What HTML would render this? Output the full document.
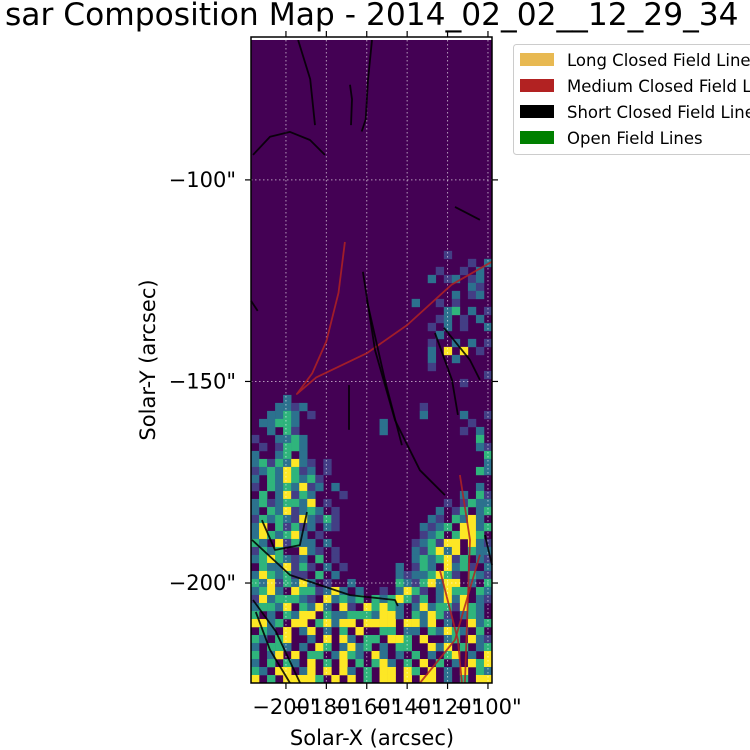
<!DOCTYPE html>
<html><head><meta charset="utf-8"><style>
html,body{margin:0;padding:0;background:#fff;width:750px;height:750px;overflow:hidden}
svg{display:block;font-family:"DejaVu Sans","Liberation Sans",sans-serif}
</style></head><body>
<svg id="chart" width="750" height="750" viewBox="0 0 750 750">
<text x="5" y="25" font-size="31.3" fill="#000">sar Composition Map - 2014_02_02__12_29_34</text>
<g id="plot"></g>
<g id="axes"></g>
<g id="legend">
<rect x="513.5" y="44.5" width="245" height="110" rx="3" fill="#fff" stroke="#ccc"/>
<rect x="520" y="53" width="34" height="13" fill="#e8b952"/>
<text x="567" y="66" font-size="16.5">Long Closed Field Lines</text>
<rect x="520" y="79" width="34" height="13" fill="#b22222"/>
<text x="567" y="92" font-size="16.5">Medium Closed Field Lines</text>
<rect x="520" y="105" width="34" height="13" fill="#000"/>
<text x="567" y="118" font-size="16.5">Short Closed Field Lines</text>
<rect x="520" y="131" width="34" height="13" fill="#008000"/>
<text x="567" y="144" font-size="16.5">Open Field Lines</text>
</g>
<text x="372" y="745" font-size="21" text-anchor="middle">Solar-X (arcsec)</text>
<text transform="translate(155,360) rotate(-90)" font-size="21" text-anchor="middle">Solar-Y (arcsec)</text>
</svg>
<script>
const xTicks=[-200,-180,-160,-140,-120,-100];
const yTicks=[-100,-150,-200];
const xDomain=[-217.3,-98];
const yDomain=[-64.8,-224.8];
const gridTopY=-117.6;
const gridBottomY=-224.8;
const gridRows=[
"........................1.....",
"...........................1.2",
".......................1..1.2.",
"......................2.12.12.",
"...........................21.",
".........................2.12.",
"....................2..1.1....",
"........................23.2.1",
".......................12.1.2.",
"......................1.2.1..2",
".......................2......",
"......................1..2.2.1",
"......................2.4.4.1.",
"......................2..2....",
"......................1.......",
".............................1",
"..........................1...",
"..............................",
"....2.........................",
"...2212..............1........",
"..2232.1.............2....2..1",
".22332..........2..........1..",
"..2.31..........2.........1.2.",
"1..2232.....................3.",
".1.1332.....................21",
"2..23.2......................3",
"23132421.1...................2",
"12324312.1..................32",
"2.3243231.....................",
"1.3232412.2.................2.",
".3.24132...1..............2.31",
"23123324.1..............1.1322",
"2.3241232.1............2.13.23",
"13232142131...........21.3242.",
"24.31312.21..........2123.4423",
"2432342.1............123.3443.",
"32.41322.2..........123144.421",
"1323..421.1.........213424.322",
"2343212.3.1.........2323413.21",
".3224131.2.1......2.132.4231.2",
"2432311.3.2.......21223431.321",
"32413242.1..2.....32134244.2.3",
"2342.4331242.2..1.2431.2433.32",
"14233321.42323.3234313.2424.21",
"23324.3242.41.43432.242331432.",
"3.2.3244.3223332442.32431.232",
"4423.44.34244.4444.4424.2..423",
".32.4.24.2.3.4..33.22.32432.3.",
"32.34..2.4.42.33.443.4..23.421",
"2.332.2.43.2423.2.33..424.3.23",
"3.24.4.33.2432.42.2.3.2.34.2.4",
"2.3.32.4.3.4.3.342.3.4.3.2.434",
"32.44.24.4.42.3.44.43.4.2.4.32",
"4.3.44443.4.4.3.44.4.44.2.3.44"
];
const colors={".":"#440154","1":"#433e85","2":"#2c718e","3":"#2fb47c","4":"#fde725"};
const redLines=[
 [[-170.8,-115.4],[-174,-128],[-180,-140],[-187,-148],[-194.6,-153.1],[-185,-149],[-160,-143],[-140,-136],[-118,-126],[-98,-120.3]],
 [[-113.9,-173.2],[-108.9,-189.3],[-111.4,-224.8]],
 [[-123.8,-196.8],[-114.9,-214.1],[-112.9,-224.8]],
 [[-104,-193],[-116.3,-214.1],[-133.7,-224.8]]
];
const blackLines=[
 [[-216.3,-93.8],[-207.9,-89.3],[-198,-88.1],[-188.1,-90.1],[-180.7,-93.8]],
 [[-194,-65.3],[-188,-75],[-185.6,-86.4]],
 [[-157.4,-65.3],[-159.4,-75.2],[-160.5,-85],[-162.5,-88]],
 [[-168.3,-76.4],[-167.3,-80],[-167.8,-86.4]],
 [[-161.9,-122.8],[-155.9,-142.2],[-146,-159.6],[-133.7,-172],[-121.3,-178.2]],
 [[-160,-129.8],[-151,-149.6],[-142.6,-165.8]],
 [[-126.2,-138],[-117.8,-149.6],[-114.9,-158.3]],
 [[-121.8,-136.7],[-108.9,-144.7],[-104,-149.6]],
 [[-216.8,-189.3],[-198,-198],[-168.3,-203],[-146,-204.2],[-144.6,-205.7]],
 [[-211.9,-184.4],[-205.4,-191.8],[-193.1,-190.6],[-189.6,-182.4]],
 [[-214.9,-207.2],[-207.9,-216.6],[-198,-224.8]],
 [[-216.3,-204.2],[-205,-212],[-193,-224.8]],
 [[-101.5,-188.1],[-98,-195.5]],
 [[-116.3,-106.7],[-104,-109.9]],
 [[-168.8,-150.9],[-168.8,-162]],
 [[-217.3,-130],[-214,-132.5]]
];
const L=251,R=492,T=38,B=683;
const sx=v=>L+(v-xDomain[0])/(xDomain[1]-xDomain[0])*(R-L);
const sy=v=>T+(v-yDomain[0])/(yDomain[1]-yDomain[0])*(B-T);
const NS="http://www.w3.org/2000/svg";
const plot=document.getElementById('plot'),axes=document.getElementById('axes');
function mk(tag,attrs,parent){const e=document.createElementNS(NS,tag);for(const k in attrs)e.setAttribute(k,attrs[k]);parent.appendChild(e);return e;}
let bg=mk('rect',{x:L,y:T+2,width:R-L,height:B-T-2,fill:'#440154'},plot);


const nCols=30;
const cellDX=(xDomain[1]-xDomain[0])/nCols;
const cellDY=(gridTopY-gridBottomY)/gridRows.length;
gridRows.forEach((row,r)=>{
  for(let c=0;c<nCols;c++){
    const ch=row[c]||'.';
    if(ch==='.')continue;
    const x0=xDomain[0]+c*cellDX, x1=x0+cellDX;
    const y0=gridTopY-r*cellDY, y1=y0-cellDY;
    const e=mk('rect',{x:sx(x0),y:sy(y0),width:sx(x1)-sx(x0)+0.3,height:sy(y1)-sy(y0)+0.3,fill:colors[ch]},plot);
    
    
  }
});
xTicks.forEach(t=>{const g=mk('line',{x1:sx(t),x2:sx(t),y1:T+2,y2:B,stroke:'#fff','stroke-opacity':0.6,'stroke-dasharray':'1.5,2.5','stroke-width':1},plot);

});
yTicks.forEach(t=>{const g=mk('line',{x1:L,x2:R,y1:sy(t),y2:sy(t),stroke:'#fff','stroke-opacity':0.6,'stroke-dasharray':'1.5,2.5','stroke-width':1},plot);

});
function drawLine(pts,color,name){
  const d=pts.map((p,i)=>(i?'L':'M')+sx(p[0]).toFixed(1)+','+sy(p[1]).toFixed(1)).join(' ');
  const e=mk('path',{d:d,fill:'none',stroke:color,'stroke-width':1.8,'stroke-opacity':0.85,'stroke-linejoin':'round'},plot);
  
  
}
redLines.forEach(p=>drawLine(p,'#b22222','medium-field-line'));
blackLines.forEach(p=>drawLine(p,'#000','short-field-line'));
let fr=mk('rect',{x:L,y:T-1,width:R-L,height:B-T+1,fill:'none',stroke:'#000','stroke-width':1.5},axes);


mk('rect',{x:L+1,y:T,width:R-L-2,height:2,fill:'#fff'},axes);
xTicks.forEach(t=>{
  const x=sx(t);
  mk('line',{x1:x,x2:x,y1:B,y2:B+6,stroke:'#000','stroke-width':1.2},axes);
  mk('line',{x1:x,x2:x,y1:T-1,y2:T-7,stroke:'#000','stroke-width':1.2},axes);
  const tx=mk('text',{x:x,y:B+31,'font-size':21,'text-anchor':'middle'},axes);
  tx.textContent='\u2212'+Math.abs(t)+'"';
  
  
});
yTicks.forEach(t=>{
  const y=sy(t);
  mk('line',{x1:L,x2:L-6,y1:y,y2:y,stroke:'#000','stroke-width':1.2},axes);
  mk('line',{x1:R,x2:R+6,y1:y,y2:y,stroke:'#000','stroke-width':1.2},axes);
  const tx=mk('text',{x:L-15,y:y+7,'font-size':21,'text-anchor':'end'},axes);
  tx.textContent='\u2212'+Math.abs(t)+'"';
  
  
});
</script>
</body></html>
